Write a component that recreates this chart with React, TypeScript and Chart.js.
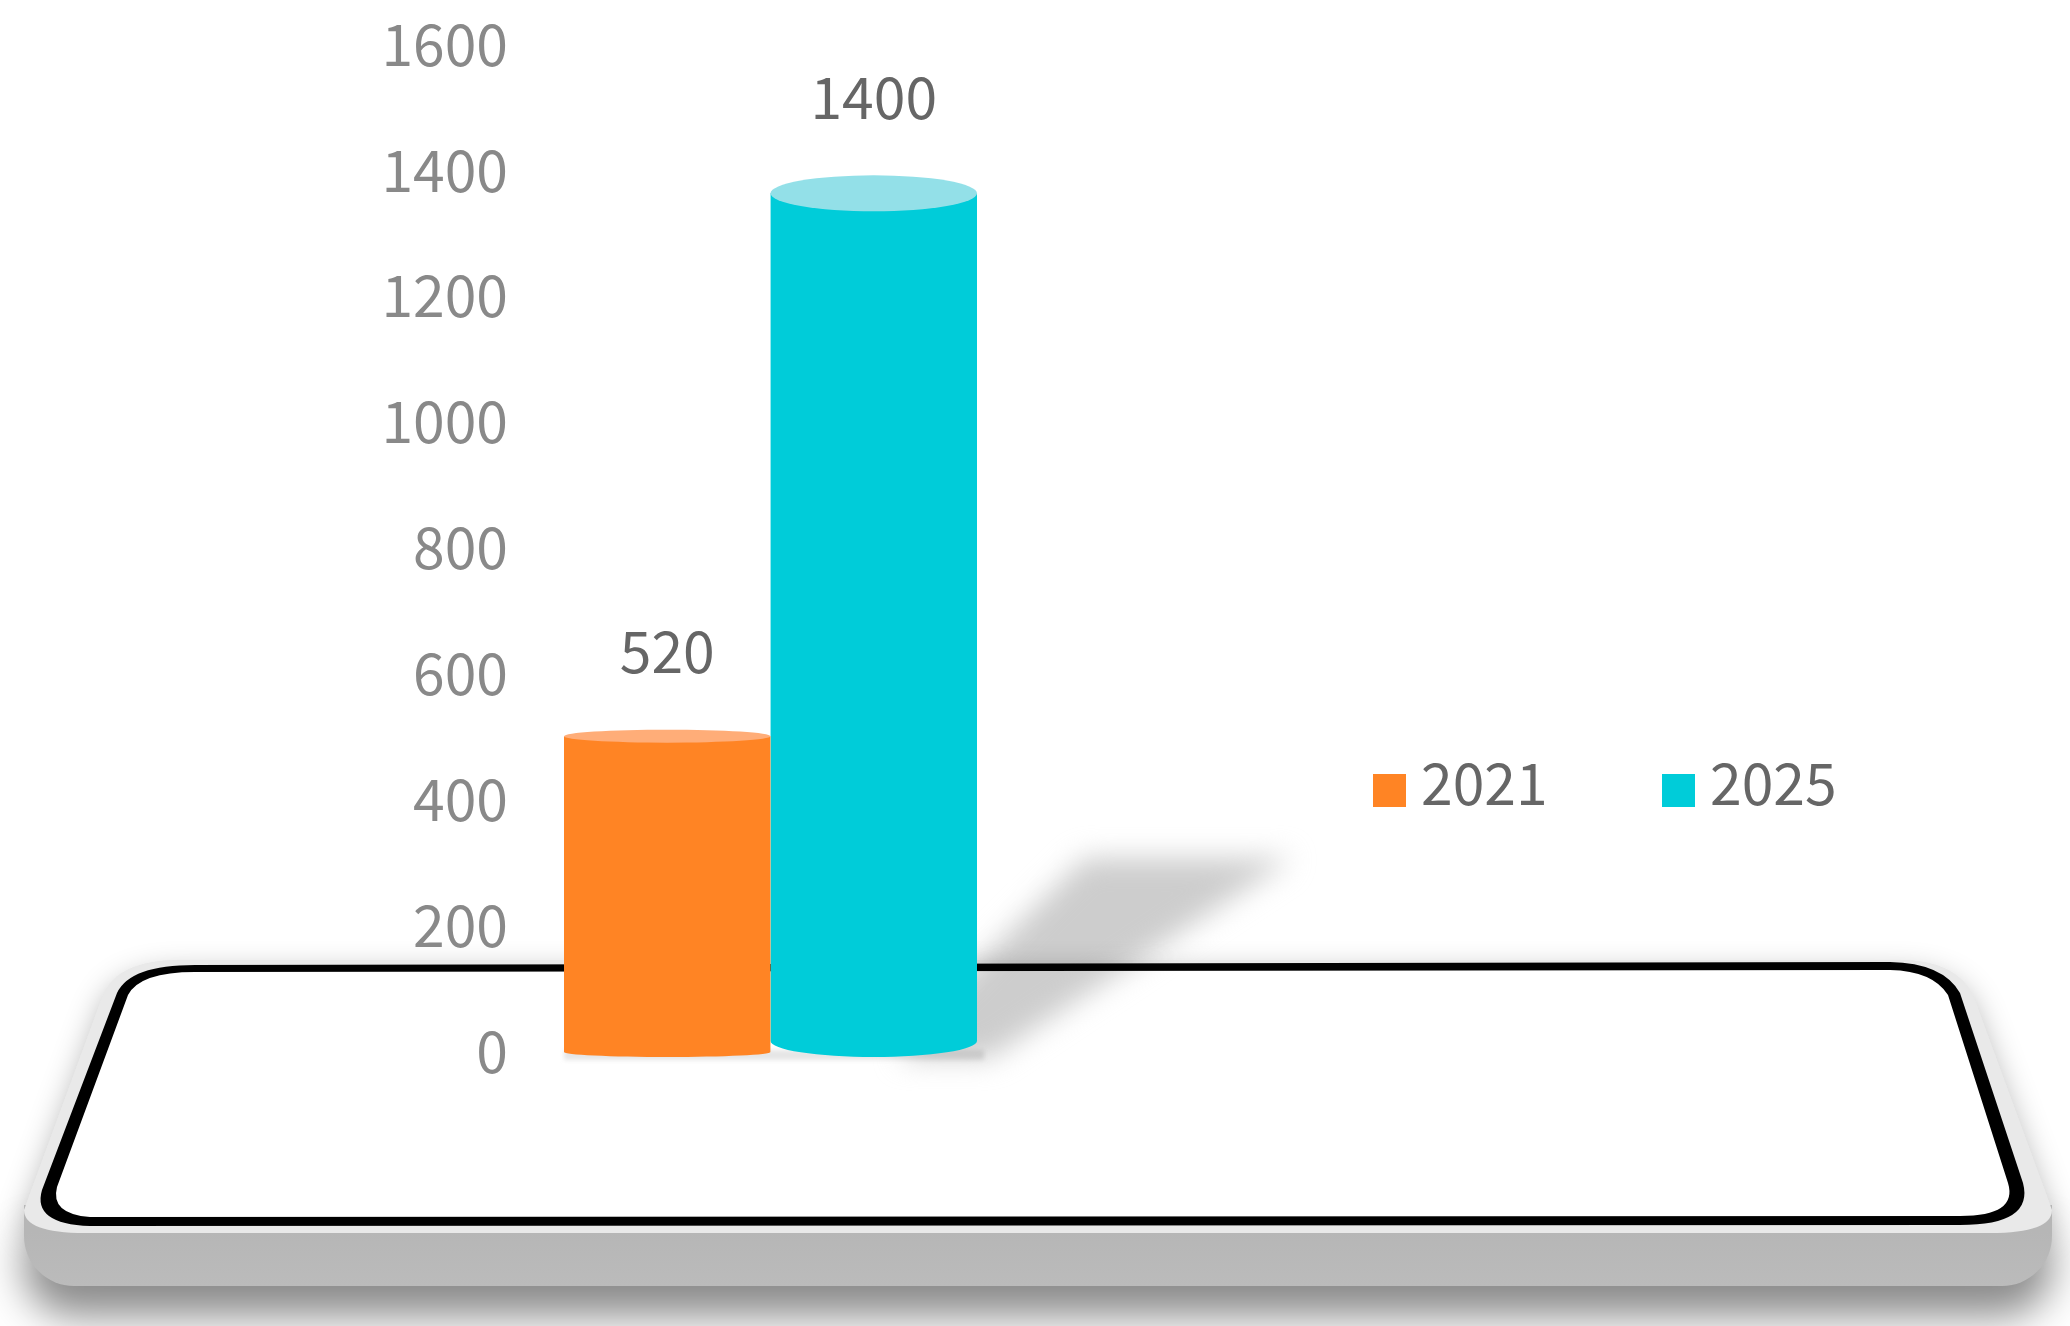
import React, { useEffect, useRef } from "react";
import { Chart, registerables } from "chart.js";

Chart.register(...registerables);

const categories = ["Value"];
const seriesLabels = ["2021", "2025"];
const values2021 = [520];
const values2025 = [1400];
const tickStep = 200;
const tickMax = 1600;

const sideColors = ["#FF8424", "#00CCD9"];
const capColors = ["#FFAD78", "#93E0E8"];
const topCapRy = [6.5, 18];
const bottomCapRy = [5, 16];
const FONT = '"Noto Sans CJK JP", "Noto Sans", sans-serif';

function facePath(ctx: CanvasRenderingContext2D) {
  ctx.beginPath();
  ctx.moveTo(180, 960);
  ctx.lineTo(1900, 960);
  ctx.quadraticCurveTo(1955, 960, 1973, 995);
  ctx.lineTo(2052, 1210);
  ctx.quadraticCurveTo(2052, 1233, 1990, 1233);
  ctx.lineTo(85, 1233);
  ctx.quadraticCurveTo(24, 1233, 24, 1210);
  ctx.lineTo(103, 995);
  ctx.quadraticCurveTo(118, 960, 180, 960);
  ctx.closePath();
}

function outerPath(ctx: CanvasRenderingContext2D) {
  ctx.beginPath();
  ctx.moveTo(195, 965);
  ctx.lineTo(1890, 962);
  ctx.quadraticCurveTo(1943, 963, 1960, 993);
  ctx.lineTo(2023, 1183);
  ctx.quadraticCurveTo(2034, 1225, 1960, 1225);
  ctx.lineTo(90, 1226);
  ctx.quadraticCurveTo(32, 1224, 42, 1190);
  ctx.lineTo(117, 993);
  ctx.quadraticCurveTo(130, 965, 195, 965);
  ctx.closePath();
}

function innerPath(ctx: CanvasRenderingContext2D) {
  ctx.beginPath();
  ctx.moveTo(195, 972);
  ctx.lineTo(1890, 970);
  ctx.quadraticCurveTo(1933, 971, 1948, 995);
  ctx.lineTo(2008, 1183);
  ctx.quadraticCurveTo(2018, 1216, 1960, 1216);
  ctx.lineTo(90, 1217);
  ctx.quadraticCurveTo(50, 1214, 57, 1187);
  ctx.lineTo(128, 995);
  ctx.quadraticCurveTo(140, 972, 195, 972);
  ctx.closePath();
}

const platformPlugin = {
  id: "platform",
  beforeDraw(chart: any) {
    const ctx: CanvasRenderingContext2D = chart.ctx;
    ctx.save();
    // soft shadow round the slanted face
    ctx.save();
    ctx.shadowColor = "rgba(0,0,0,0.3)";
    ctx.shadowBlur = 30;
    ctx.shadowOffsetY = 12;
    ctx.fillStyle = "#e9e9e9";
    facePath(ctx);
    ctx.fill();
    ctx.restore();
    // base block with drop shadow
    ctx.save();
    ctx.shadowColor = "rgba(0,0,0,0.46)";
    ctx.shadowBlur = 40;
    ctx.shadowOffsetY = 30;
    const g = ctx.createLinearGradient(0, 1232, 0, 1286);
    g.addColorStop(0, "#b6b6b6");
    g.addColorStop(1, "#bbbbbb");
    ctx.fillStyle = g;
    ctx.beginPath();
    ctx.roundRect(24, 1205, 2028, 81, [0, 0, 50, 50]);
    ctx.fill();
    ctx.restore();
    // light top face, black outline, white screen
    ctx.fillStyle = "#e9e9e9";
    facePath(ctx);
    ctx.fill();
    ctx.fillStyle = "#000";
    outerPath(ctx);
    ctx.fill();
    ctx.fillStyle = "#fff";
    innerPath(ctx);
    ctx.fill();
    ctx.restore();
  },
  beforeDatasetsDraw(chart: any) {
    const ctx: CanvasRenderingContext2D = chart.ctx;
    // cast shadow of the cylinder
    ctx.save();
    ctx.globalCompositeOperation = "multiply";
    ctx.filter = "blur(14px)";
    ctx.fillStyle = "#cdcdcd";
    ctx.beginPath();
    ctx.moveTo(930, 1010);
    ctx.lineTo(1085, 858);
    ctx.lineTo(1292, 858);
    ctx.lineTo(990, 1058);
    ctx.lineTo(900, 1058);
    ctx.closePath();
    ctx.fill();
    ctx.restore();
    ctx.save();
    ctx.globalCompositeOperation = "multiply";
    ctx.filter = "blur(2px)";
    ctx.fillStyle = "#e6e6e6";
    ctx.fillRect(564, 1050, 420, 10);
    ctx.restore();
  },
  beforeDatasetDraw(chart: any, args: any) {
    const ctx: CanvasRenderingContext2D = chart.ctx;
    const i = args.index;
    const bar = chart.getDatasetMeta(i).data[0];
    const half = bar.width / 2;
    const ry = bottomCapRy[i];
    const bottom = 1057 - ry;
    ctx.save();
    ctx.beginPath();
    ctx.rect(bar.x - half, bar.y, bar.width, bottom - bar.y);
    ctx.ellipse(bar.x, bottom, half, ry, 0, 0, Math.PI * 2);
    ctx.clip();
  },
  afterDatasetDraw(chart: any, args: any) {
    const ctx: CanvasRenderingContext2D = chart.ctx;
    ctx.restore();
    const i = args.index;
    const bar = chart.getDatasetMeta(i).data[0];
    const value = chart.data.datasets[i].data[0];
    ctx.save();
    ctx.fillStyle = capColors[i];
    ctx.beginPath();
    ctx.ellipse(bar.x, bar.y, bar.width / 2, topCapRy[i], 0, 0, Math.PI * 2);
    ctx.fill();
    ctx.fillStyle = "#666666";
    ctx.font = `57px ${FONT}`;
    ctx.textAlign = "center";
    ctx.textBaseline = "middle";
    ctx.fillText(String(value), bar.x, bar.y - topCapRy[i] - 78);
    ctx.restore();
  },
  afterDraw(chart: any) {
    const ctx: CanvasRenderingContext2D = chart.ctx;
    const squares = [1373, 1662];
    ctx.save();
    ctx.font = `57px ${FONT}`;
    ctx.textBaseline = "middle";
    chart.data.datasets.forEach((ds: any, i: number) => {
      ctx.fillStyle = ds.backgroundColor;
      ctx.fillRect(squares[i], 774, 33, 33);
      ctx.fillStyle = "#666666";
      ctx.fillText(ds.label, squares[i] + 48, 783);
    });
    ctx.restore();
  },
};

export default function App() {
  const ref = useRef<HTMLCanvasElement>(null);
  useEffect(() => {
    document.body.style.margin = "0";
    const chart = new Chart(ref.current!, {
      type: "bar",
      data: {
        labels: categories,
        datasets: [
          { label: seriesLabels[0], data: values2021, backgroundColor: sideColors[0], yAxisID: "yBar", base: 0, clip: false } as any,
          { label: seriesLabels[1], data: values2025, backgroundColor: sideColors[1], yAxisID: "yBar", base: 0, clip: false } as any,
        ],
      },
      options: {
        responsive: false,
        animation: false,
        layout: { padding: { left: 0, top: 44, right: 1093, bottom: 275 } },
        datasets: { bar: { barPercentage: 1, categoryPercentage: 1 } },
        plugins: { legend: { display: false }, tooltip: { enabled: false } },
        scales: {
          x: { display: false, stacked: false },
          y: {
            position: "left",
            min: 0,
            max: tickMax,
            grid: { display: false, drawTicks: false },
            border: { display: false },
            ticks: {
              stepSize: tickStep,
              padding: 56,
              color: "#898989",
              font: { family: FONT, size: 57 },
              callback: (v: any) => String(v),
            },
            afterFit(scale: any) {
              scale.width = 564;
              scale.paddingTop = 0;
              scale.paddingBottom = 0;
            },
          },
          yBar: { display: false, min: 9.7, max: 1642 },
        },
      } as any,
      plugins: [platformPlugin],
    });
    return () => chart.destroy();
  }, []);
  return <canvas ref={ref} width={2070} height={1326} style={{ display: "block" }} />;
}
